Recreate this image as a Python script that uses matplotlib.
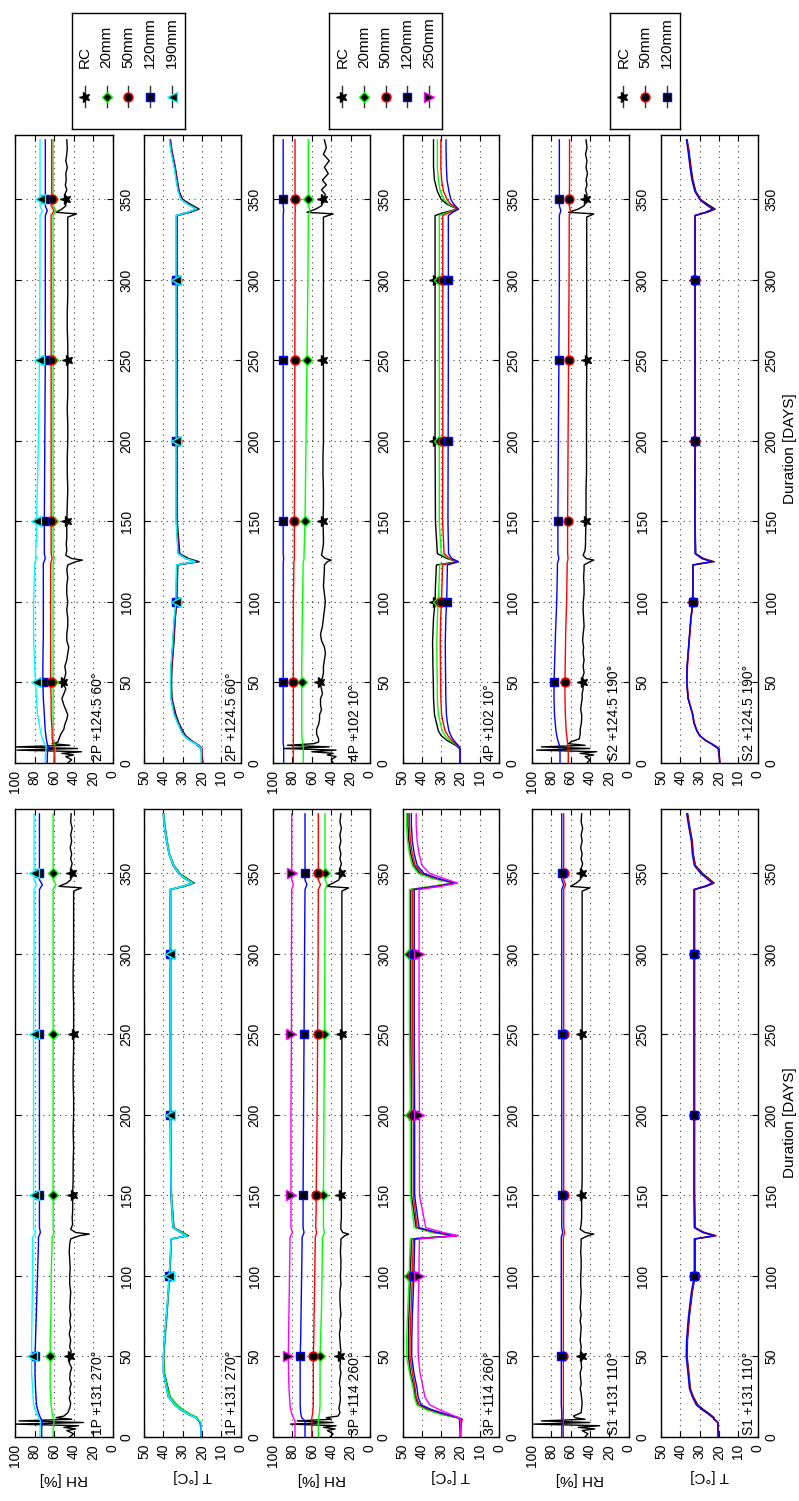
import numpy as np
import matplotlib
matplotlib.use("Agg")
import matplotlib.pyplot as plt
from matplotlib.markers import MarkerStyle
from matplotlib.transforms import Affine2D

plt.rcParams['font.family'] = ['Liberation Sans', 'DejaVu Sans']
plt.rcParams['font.size'] = 10

# ---------------- data ----------------
DAY_RH = [0, 5, 10, 12, 15, 20, 30, 40, 50, 60, 80, 100, 120, 124, 127, 130, 140, 150,
          200, 250, 300, 340, 343, 346, 350, 360, 387]
DAY_RC = [0, 2, 4, 5, 6, 7, 8, 9, 10, 11,
          12, 13, 15, 18, 21, 24, 27, 30, 33, 36,
          40, 43, 46, 50, 53, 56, 60, 64, 68, 72,
          76, 80, 85, 90, 95, 100, 105, 110, 115, 120,
          123, 125, 126, 127, 129, 132, 136, 140, 150, 160,
          170, 180, 190, 200, 210, 220, 230, 240, 250, 260,
          270, 280, 290, 300, 310, 320, 330, 339, 341, 342,
          344, 346, 350, 353, 356, 359, 362, 366, 370, 374,
          378, 382, 387]
DAY_T = [0, 9, 11, 12, 14, 17, 20, 25, 30, 40, 50, 60, 75, 90, 100, 110, 123, 125, 127, 130,
         150, 200, 250, 300, 340, 342, 344, 347, 350, 355, 362, 370, 380, 387]

# ---- 2P +124.5 60 deg ----
RH_2P_RC = [46, 42, 48, 40, 52, 32, 98, 36, 100, 44,
            62, 56, 55, 53, 50, 49, 47, 46, 48, 50,
            52, 50, 48, 51, 49, 48, 49, 47, 46, 45,
            47, 47, 46, 46, 47, 46, 47, 47, 46, 47,
            46, 38, 31, 42, 48, 47, 47.5, 47, 47, 46.5,
            46, 46.5, 46.5, 46, 46, 46.5, 46, 46, 46, 46,
            46.5, 46.5, 46, 46, 46, 46, 46, 46, 37, 58,
            52, 48, 48, 49, 47, 48.5, 47.5, 48, 46.5, 48,
            47, 46.5, 47]
RH_2P_20 = [59, 59, 59, 60, 61, 61, 61, 61, 61, 61, 61, 61, 61, 61, 60, 61, 61, 61, 61, 61, 61, 61, 58, 61, 61, 61, 61]
RH_2P_50 = [60, 60, 60, 61, 62, 62, 63, 63, 63.5, 63.5, 63.5, 63.5, 63.5, 63.5, 62, 63, 63, 63, 63, 63, 63, 63, 60, 63, 62.5, 62.5, 62.5]
RH_2P_120 = [67, 67, 66, 67, 68, 69, 70, 71, 71.5, 71.5, 71, 71, 71, 71, 69, 70, 70, 70, 69.5, 69, 69, 69, 67, 69, 69, 69, 69]
RH_2P_190 = [69, 69, 68, 70, 72, 74, 77, 78, 79, 80, 81, 81, 80, 80, 78, 79, 78, 78, 76, 75, 74.5, 74.4, 72, 74.4, 74.4, 74.4, 74.4]

T_2P_RC = [19.5, 20.5, 22.5, 23, 25.5, 28.5, 30, 32, 33.5, 35.5, 35.8, 35.5, 34.5, 33.8, 33, 32.8, 32.5, 21.5, 27, 31.5,
           32.8, 32.8, 32.8, 32.8, 32.8, 26, 21.5, 26, 30, 31.8, 32.8, 33.8, 35.5, 36.3]
T_2P_20 = [20.3, 20.3, 21.8, 23.3, 26.3, 29.3, 30.8, 32.6, 34.3, 36, 36.3, 36, 35.1, 34.3, 33.4, 33.3, 33.1, 23.3, 28.3, 32.3,
           33.3, 33.3, 33.3, 33.3, 33.3, 27.3, 22.8, 27.3, 30.8, 32.3, 33.3, 34.3, 36, 36.8]
T_2P_50 = [20, 20, 21.5, 23, 26, 29, 30.5, 32.3, 34, 35.7, 36, 35.7, 34.8, 34, 33.1, 33, 32.8, 23, 28, 32,
           33, 33, 33, 33, 33, 27, 22.5, 27, 30.5, 32, 33, 34, 35.7, 36.5]
T_2P_120 = [20.2, 20.2, 21.7, 23.2, 26.2, 29.2, 30.7, 32.5, 34.2, 35.9, 36.2, 35.9, 35, 34.2, 33.3, 33.2, 33, 23.2, 28.2, 32.2,
            33.2, 33.2, 33.2, 33.2, 33.2, 27.2, 22.7, 27.2, 30.7, 32.2, 33.2, 34.2, 35.9, 36.7]
T_2P_190 = [20.4, 20.4, 21.9, 23.4, 26.4, 29.4, 30.9, 32.7, 34.4, 36.1, 36.4, 36.1, 35.2, 34.4, 33.5, 33.4, 33.2, 23.4, 28.4, 32.4,
            33.4, 33.4, 33.4, 33.4, 33.4, 27.4, 22.9, 27.4, 30.9, 32.4, 33.4, 34.4, 36.1, 36.9]

# ---- 4P +102 10 deg ----
RH_4P_RC = [38, 40, 35, 44, 38, 60, 35, 89, 42, 85,
            58, 53, 53, 55, 55, 53, 52, 52, 50, 51,
            51, 49, 50, 51.5, 49, 48, 48, 47, 46, 47,
            50, 51, 49, 48, 47, 46, 47, 48, 47.5, 47,
            47, 44, 40, 46, 50, 49, 48, 48, 48.5, 48,
            48, 48.5, 48.5, 48, 48, 48, 48, 48, 48, 48,
            48, 48, 48, 48, 48, 48, 48, 48, 38, 65,
            56, 50, 48, 46, 50, 45, 49, 43, 47, 42,
            48, 45, 47]
RH_4P_20 = [68.8, 68.8, 68.8, 69.5, 70, 70.4, 70.4, 70.4, 70.4, 70.4, 70, 69.5, 69, 69, 68, 68, 67.5, 67, 66, 65, 64, 63.6, 62, 63.6, 63.6, 63.6, 63.6]
RH_4P_50 = [79, 79, 79, 79, 79, 79, 79, 79, 79, 79, 79, 79, 78.5, 78.5, 78, 78, 78, 78, 77.5, 77.5, 77.3, 77.3, 77, 77.3, 77.3, 77.3, 77.3]
RH_4P_120 = [89, 89, 89, 89.5, 89.5, 89.5, 89.5, 89.5, 89.5, 89.5, 89.5, 89.5, 89.5, 89.5, 89, 89.5, 89.5, 89.5, 89.5, 89.5, 89.5, 89.5, 89, 89.5, 89.5, 89.5, 89.5]

T_4P_RC = [20.2, 20.5, 22.5, 24, 27, 30, 31.5, 32.5, 33.5, 34, 34.1, 34.3, 34.5, 34, 33.2, 33, 32.5, 21.5, 27, 32,
           33, 33.2, 33.2, 33.2, 33.2, 28, 21.5, 27, 30, 32, 33.5, 34, 34, 34]
T_4P_20 = [20.2, 20.3, 21.8, 23, 25.5, 28, 29.5, 30.5, 31.5, 32, 32, 32.2, 32.3, 32, 31.5, 31.2, 30.8, 21.3, 26, 30,
           31, 31, 31, 31, 31, 26.5, 21.3, 26, 28.5, 30.5, 31.5, 32, 32, 32]
T_4P_50 = [20.2, 20.2, 21.5, 22.5, 24.5, 26.5, 28, 29, 29.8, 30.2, 30.3, 30.4, 30.5, 30.3, 29.9, 29.6, 29.3, 21.2, 25.5, 28.5,
           29.3, 29.2, 29.2, 29.2, 29.2, 25.5, 21.2, 25, 27, 28.8, 29.8, 30.2, 30.2, 30.2]
T_4P_120 = [20.2, 20.2, 21.2, 22, 23.5, 25, 26, 26.8, 27.3, 27.6, 27.7, 27.8, 27.9, 27.6, 27.2, 27, 26.8, 21, 24.5, 26.2,
            26.5, 26.4, 26.3, 26.3, 26.3, 24, 21, 23.5, 25, 26, 27, 27.3, 27.5, 27.5]

# ---- S2 +124.5 190 deg ----
RH_S2_RC = [43, 40, 45, 36, 50, 33, 95, 40, 90, 45,
            62, 60, 51, 50, 50, 49, 48.5, 48.5, 49.5, 49,
            48, 48, 47, 46.8, 47.5, 46, 47, 46, 47, 46.5,
            47.5, 47, 46, 46.5, 47, 46.8, 46, 46, 46.5, 46,
            46, 40, 36, 44, 47, 45, 44.5, 44.5, 44, 44,
            44, 43.5, 43.5, 43.5, 43.5, 43.5, 43.5, 43.3, 43.3, 43.3,
            43.3, 43.3, 43.3, 43.3, 43.3, 43.3, 43.3, 43.3, 36, 62,
            52, 46, 44, 43, 44.5, 43, 44, 42.5, 44, 43,
            44.5, 43, 44]
RH_S2_50 = [62.3, 62.3, 62.5, 63, 63.5, 64.5, 65.3, 65.7, 65.7, 65.5, 65, 64, 63.5, 63.5, 62.5, 63, 63, 63, 62.5, 62, 61.5, 61.3, 60, 61.3, 61.2, 61, 61]
RH_S2_120 = [70.8, 70.8, 71, 72, 73.5, 75, 76.5, 77, 77, 76.5, 75.5, 74.2, 73.5, 73.5, 72, 73, 73, 73, 72.5, 72, 71.5, 71.5, 70, 71.5, 71.5, 71.5, 71.5]

T_S2_RC = [19.5, 20.5, 23, 24, 27, 30, 31.5, 33, 33.5, 36, 36.7, 36.5, 35.5, 34.5, 33.5, 33.5, 33.5, 22.5, 28, 32,
           32.4, 32.4, 32.4, 32.4, 32.4, 26, 22, 26, 29.5, 32, 33.5, 34.5, 35.5, 36.5]
T_S2_50 = [19.6, 20, 22.5, 23.8, 26.8, 29.8, 31.3, 32.8, 33.5, 35.8, 36.5, 36.3, 35.4, 34.4, 33.4, 33.4, 33.4, 23.5, 28.5, 32.2,
           32.4, 32.4, 32.4, 32.4, 32.4, 26.8, 23, 26.8, 29.8, 32.3, 33.8, 34.8, 35.8, 36.6]
T_S2_120 = [19.7, 20, 22.5, 24, 27, 30, 31.5, 33, 33.7, 36, 36.7, 36.5, 35.6, 34.6, 33.5, 33.5, 33.5, 24, 29, 32.4,
            32.5, 32.4, 32.4, 32.4, 32.4, 27, 23.3, 27, 30, 32.5, 34, 35, 36, 36.8]

# ---- 1P +131 270 deg ----
RH_1P_RC = [44, 40, 47, 38, 50, 35, 100, 30, 96, 42,
            58, 50, 46, 44, 43, 44.5, 43, 44, 42.5, 44,
            43.5, 42, 44.5, 44, 42.5, 44, 43, 44.5, 43, 44,
            43, 44, 43.5, 43, 44, 44, 43.5, 44, 44.5, 44,
            43, 34, 24, 38, 43, 41, 41.5, 41, 41, 40.5,
            40.5, 40, 40.5, 40, 40, 40.5, 40.5, 40, 40, 40,
            40, 40.5, 40.5, 40, 40, 40, 40, 40, 32, 55,
            47, 43, 42, 43, 41.5, 43, 42, 43.5, 42, 43,
            41.5, 43, 42.5]
RH_1P_20 = [61, 61, 60, 61, 62, 63, 64, 64, 64, 64, 63, 63, 62, 62, 60, 61, 61, 61, 61, 61, 61, 61, 58, 61, 61, 61, 61]
RH_1P_120 = [72.7, 72.7, 72, 74, 76, 78, 79, 79.5, 79.5, 79, 78, 77, 76, 76, 74, 75, 75, 75, 75, 75, 75, 75, 72, 75, 75, 75, 75]
RH_1P_190 = [74.4, 74.4, 74, 76, 78, 81, 82, 83, 83, 83, 82.5, 82, 82, 82, 79, 81, 81, 81, 81, 81, 80.5, 80.5, 78, 80.5, 80.5, 80.5, 80.5]

T_1P_RC = [20, 21, 22.5, 22.5, 26, 30, 33, 36.5, 37.5, 39.5, 39.8, 39.2, 38.2, 37.3, 36.8, 36.3, 35.8, 27, 30, 34.5,
           35.8, 36.2, 36.2, 36.2, 36.2, 29, 24, 28, 31.5, 34.5, 36.8, 38, 39.2, 39.8]
T_1P_20 = [20.5, 20.5, 22, 22.5, 26, 30, 33, 36.5, 37.8, 39.6, 39.8, 39.3, 38.3, 37.3, 36.8, 36.3, 35.8, 27.5, 30.5, 34.8,
           35.8, 36.3, 36.3, 36.3, 36.3, 29.5, 24.5, 28.5, 31.7, 34.6, 36.8, 38.1, 39.3, 39.8]
T_1P_120 = [20.6, 20.6, 22.6, 23.2, 27.2, 31.2, 34.2, 37.5, 38.4, 40, 40, 39.5, 38.5, 37.5, 37, 36.5, 36, 28.2, 31.2, 35.1,
            36.1, 36.5, 36.5, 36.5, 36.5, 30.2, 25.2, 29.2, 32.2, 35, 37.1, 38.4, 39.6, 40.1]
T_1P_190 = [20.5, 20.5, 22.5, 23, 27, 31, 34, 37.4, 38.3, 40, 40, 39.5, 38.5, 37.5, 37, 36.5, 36, 28, 31, 35,
            36, 36.5, 36.5, 36.5, 36.5, 30, 25, 29, 32, 34.8, 37, 38.3, 39.5, 40]

# ---- 3P +114 260 deg ----
RH_3P_RC = [41, 38, 44, 36, 48, 35, 82, 38, 75, 40,
            45, 33, 31, 32, 31, 30.5, 31, 30.5, 31.5, 31,
            30, 31, 30.5, 31, 30, 30.5, 31, 31.5, 30.5, 31,
            30, 30.5, 31, 31, 30, 30.5, 30, 30, 30.5, 30,
            30, 26, 22, 28, 30, 30, 29.5, 29.5, 29.5, 29.5,
            29.5, 29, 29, 29, 29, 29, 29, 29, 29, 29,
            29, 29, 29, 29, 29, 29, 29, 29, 22, 45,
            38, 32, 30, 31, 29.5, 31, 30, 31.5, 30, 31,
            29.5, 31, 30]
RH_3P_20 = [53.3, 53.3, 53.3, 53, 52, 51.5, 51.5, 51.5, 51.5, 51, 50, 49.5, 49, 49, 47, 48, 48, 48, 47.5, 47, 46.5, 46.4, 44, 46.4, 46.4, 46.4, 46.4]
RH_3P_50 = [60, 60, 60, 60, 59, 58.5, 58.4, 58.4, 58.4, 58, 57.5, 57, 56.5, 56.5, 55, 56, 55.5, 55.5, 54.5, 54, 53.5, 53.3, 51, 53.3, 53.3, 53.3, 53.3]
RH_3P_120 = [67, 67, 67, 70.4, 71.5, 72, 72, 72, 72, 71.5, 71, 70.5, 70, 70, 68, 69, 69, 69, 68.5, 68, 67.5, 67, 65, 67, 67, 67, 67]
RH_3P_250 = [77.3, 77.3, 77.3, 79, 81, 82.5, 83.5, 84, 84.2, 84, 83.5, 83, 82.5, 82.5, 80, 81.5, 81.5, 81.5, 81.5, 81, 81, 80.7, 79, 80.7, 80.7, 80.7, 80.7]

T_3P_RC = [20, 20.5, 20.5, 22, 29, 37, 42, 43.5, 44, 46, 47, 47, 46.8, 46.3, 46, 45.8, 45.5, 22, 34, 43,
           45.5, 45.5, 45.8, 45.8, 45.8, 34, 23, 34, 41, 44.3, 45.8, 46.8, 47.3, 47.3]
T_3P_20 = [20, 20, 20, 22, 30, 38, 42.7, 44, 44.5, 46.5, 48, 48, 47.5, 47, 46.5, 46.5, 46, 23, 35, 44,
           46, 46, 46.5, 46.5, 46.5, 35, 24, 35, 42, 45, 46.5, 47.5, 48, 48]
T_3P_50 = [20, 19.5, 19, 21, 28, 36, 41.5, 43, 43.5, 45, 46.2, 46.2, 45.8, 45.3, 45, 44.8, 44.5, 22.5, 33, 42.5,
           44.5, 44.5, 44.8, 44.8, 44.8, 33, 23, 33, 40, 43.5, 45, 46, 46.5, 46.5]
T_3P_120 = [20, 20, 19.5, 21, 27, 35, 40.5, 42, 42.5, 44.2, 45.3, 45.3, 45, 44.5, 44.2, 44, 43.8, 22, 32, 41.5,
            43.8, 43.8, 44, 44, 44, 32, 22.5, 32, 39, 42.5, 44, 45, 45.5, 45.5]
T_3P_250 = [20, 20, 20, 21, 25, 31, 36, 38.5, 39.3, 41, 41.9, 42, 42, 41.8, 41.5, 41.5, 41.3, 21, 29, 38,
            41.3, 41.3, 41.5, 41.5, 41.5, 30, 21.5, 29, 36, 40, 41.5, 42.5, 43, 43]

# ---- S1 +131 110 deg ----
RH_S1_RC = [45, 42, 48, 35, 52, 30, 98, 40, 90, 45,
            55, 57, 49, 48.5, 48, 48.5, 49, 50, 49, 49.5,
            50, 48.5, 49, 48.5, 49.5, 49, 50, 49.5, 49, 50,
            49, 50, 49.5, 49, 49.5, 49.5, 49, 49, 49.5, 49,
            49, 42, 36, 45, 50, 49, 48.5, 48.5, 48.5, 48,
            48, 48, 48, 48, 48, 48, 48, 48, 48, 48,
            48, 48, 48, 48, 48, 48, 48, 48, 40, 60,
            54, 50, 48, 49, 47.5, 49, 48, 49.5, 48, 49,
            47.5, 49, 48.5]
RH_S1_50 = [67.4, 67.4, 67.4, 67.4, 67.4, 67.4, 67.4, 67.4, 67.4, 67.4, 67.4, 67.4, 67.4, 67.4, 66, 67, 67, 67, 67, 67, 67, 67, 65, 67, 67, 67, 67]
RH_S1_120 = [69, 69, 69, 69, 69, 69.5, 69.5, 69.5, 69.5, 69.5, 69.5, 69.5, 69.5, 69.5, 68, 69, 69, 69, 69, 69, 69, 69, 67, 69, 69, 69, 69]

T_S1_RC = [20.2, 20.5, 22.5, 22.5, 24.5, 28, 31, 33.3, 34.8, 35.6, 36.5, 36.3, 35.3, 33.8, 32.3, 32.3, 32.3, 21.5, 27.5, 32.3,
           32.6, 32.6, 32.6, 32.6, 32.6, 26.5, 22.5, 25.5, 28.5, 32.2, 33.3, 33.8, 35.3, 36.2]
T_S1_50 = [20.4, 20.5, 22.5, 23, 25, 28.5, 31.5, 33.5, 35, 35.8, 36.7, 36.5, 35.5, 34, 32.5, 32.5, 32.5, 22, 28, 32.5,
           32.8, 32.8, 32.8, 32.8, 32.8, 27, 23, 26, 29, 32.4, 33.5, 34, 35.5, 36.4]
T_S1_120 = [20.5, 20.6, 22.6, 23.2, 25.3, 28.8, 31.8, 33.8, 35.3, 36.1, 37, 36.8, 35.8, 34.3, 32.8, 32.8, 32.8, 22.5, 28.5, 32.8,
            33, 33, 33, 33, 33, 27.5, 23.5, 26.5, 29.5, 32.8, 33.8, 34.3, 35.8, 36.7]

PANEL_LABELS = ['2P +124.5 60°', '4P +102 10°', 'S2 +124.5 190°',
                '1P +131 270°', '3P +114 260°', 'S1 +131 110°']
RH_TICKS = [0, 20, 40, 60, 80, 100]
T_TICKS = [0, 10, 20, 30, 40, 50]
DAY_TICKS = [0, 50, 100, 150, 200, 250, 300, 350]

COLORS = {'RC': '#000000', '20mm': '#00ff00', '50mm': '#ff0000', '120mm': '#0000ff',
          '190mm': '#00ffff', '250mm': '#ff00ff'}
MARKERS = {'RC': '*', '20mm': 'D', '50mm': 'o', '120mm': 's', '190mm': '^', '250mm': 'v'}
MSIZE = {'RC': 8, '20mm': 5, '50mm': 6.5, '120mm': 5.5, '190mm': 6.5, '250mm': 6.5}


def mstyle(name):
    return MarkerStyle(MARKERS[name], transform=Affine2D().rotate_deg(90))


# ---------------- layout (pixels of the 799 x 1501 image) ----------------
W, H = 799, 1501
fig = plt.figure(figsize=(W / 100, H / 100), dpi=100)
PX = [(15, 112.7), (144, 240.7), (273, 370), (402.7, 499), (531.7, 628.7), (661, 757.7)]
GROUP_Y = [(135, 763), (809, 1437)]


def add_ax(x0, x1, y0, y1):
    return fig.add_axes([x0 / W, 1 - y1 / H, (x1 - x0) / W, (y1 - y0) / H])


def style_ax(ax, ticks):
    ax.set_xlim(ticks[-1], ticks[0])
    ax.set_ylim(0, 390)
    ax.set_xticks(ticks)
    ax.set_yticks(DAY_TICKS)
    ax.tick_params(direction='in', length=4, width=0.8, top=True, bottom=True,
                   left=True, right=True, labelleft=False, labelright=True,
                   labelbottom=True, labelsize=10, pad=5)
    ax.tick_params(axis='x', labelrotation=90)
    ax.tick_params(axis='y', labelrotation=90)
    ax.grid(True, linestyle=(0, (1, 4)), color='0.25', linewidth=0.8)
    for s in ax.spines.values():
        s.set_linewidth(1.0)


def draw(ax, days, vals, name, mark_days):
    assert len(days) == len(vals)
    c = COLORS[name]
    idx = [days.index(d) for d in mark_days]
    ax.plot(vals, days, color=c, lw=1.0, marker=mstyle(name), markevery=idx,
            ms=MSIZE[name], mfc='k', mec=c, mew=1.0)


RH_MARK = [50, 150, 250, 350]
T_MARK = [100, 200, 300]

panels_rh = [
    [('RC', RH_2P_RC), ('20mm', RH_2P_20), ('50mm', RH_2P_50), ('120mm', RH_2P_120), ('190mm', RH_2P_190)],
    [('RC', RH_4P_RC), ('20mm', RH_4P_20), ('50mm', RH_4P_50), ('120mm', RH_4P_120)],
    [('RC', RH_S2_RC), ('50mm', RH_S2_50), ('120mm', RH_S2_120)],
    [('RC', RH_1P_RC), ('20mm', RH_1P_20), ('120mm', RH_1P_120), ('190mm', RH_1P_190)],
    [('RC', RH_3P_RC), ('20mm', RH_3P_20), ('50mm', RH_3P_50), ('120mm', RH_3P_120), ('250mm', RH_3P_250)],
    [('RC', RH_S1_RC), ('50mm', RH_S1_50), ('120mm', RH_S1_120)],
]
panels_t = [
    [('RC', T_2P_RC), ('20mm', T_2P_20), ('50mm', T_2P_50), ('120mm', T_2P_120), ('190mm', T_2P_190)],
    [('RC', T_4P_RC), ('20mm', T_4P_20), ('50mm', T_4P_50), ('120mm', T_4P_120)],
    [('RC', T_S2_RC), ('50mm', T_S2_50), ('120mm', T_S2_120)],
    [('RC', T_1P_RC), ('20mm', T_1P_20), ('120mm', T_1P_120), ('190mm', T_1P_190)],
    [('RC', T_3P_RC), ('20mm', T_3P_20), ('50mm', T_3P_50), ('120mm', T_3P_120), ('250mm', T_3P_250)],
    [('RC', T_S1_RC), ('50mm', T_S1_50), ('120mm', T_S1_120)],
]

all_axes = []
for g in range(2):
    y0, y1 = GROUP_Y[g]
    for p in range(3):
        k = g * 3 + p
        # RH panel
        xa0, xa1 = PX[2 * p]
        ax = add_ax(xa0, xa1, y0, y1)
        style_ax(ax, RH_TICKS)
        for name, vals in panels_rh[k]:
            days = DAY_RC if name == 'RC' else DAY_RH
            draw(ax, days, vals, name, RH_MARK)
        ax.text(0.85, 0.003, PANEL_LABELS[k], transform=ax.transAxes, rotation=90,
                ha='center', va='bottom', fontsize=10)
        all_axes.append(ax)
        if g == 1:
            fig.text((xa0 + xa1) / 2 / W, 1 - 1479 / H, 'RH [%]', rotation=180,
                     ha='center', va='center', fontsize=11)
        # T panel
        xb0, xb1 = PX[2 * p + 1]
        ax = add_ax(xb0, xb1, y0, y1)
        style_ax(ax, T_TICKS)
        for name, vals in panels_t[k]:
            draw(ax, DAY_T, vals, name, T_MARK)
        ax.text(0.905, 0.003, PANEL_LABELS[k], transform=ax.transAxes, rotation=90,
                ha='center', va='bottom', fontsize=10)
        all_axes.append(ax)
        if g == 1:
            fig.text((xb0 + xb1) / 2 / W, 1 - 1476 / H, 'T [°C]', rotation=180,
                     ha='center', va='center', fontsize=11)
        if p == 2:
            fig.text(790 / W, 1 - ((y0 + y1) / 2) / H, 'Duration [DAYS]', rotation=90,
                     ha='center', va='center', fontsize=11)

for ax in all_axes:
    for t in ax.yaxis.get_major_ticks():
        t.label2.set_va('center')
        t.label2.set_ha('left')

# ---------------- legends ----------------
LEGENDS = [
    ((71.7, 185.0), ['RC', '20mm', '50mm', '120mm', '190mm']),
    ((329.0, 442.3), ['RC', '20mm', '50mm', '120mm', '250mm']),
    ((610.0, 680.0), ['RC', '50mm', '120mm']),
]
LY0, LY1 = 12.7, 129.0
for (lx0, lx1), names in LEGENDS:
    lax = add_ax(lx0, lx1, LY0, LY1)
    lax.set_xlim(lx0, lx1)
    lax.set_ylim(LY1, LY0)
    lax.set_xticks([])
    lax.set_yticks([])
    for s in lax.spines.values():
        s.set_linewidth(1.0)
    for i, name in enumerate(names):
        ex = lx0 + 13.3 + i * 21.67
        c = COLORS[name]
        lax.plot([ex, ex], [86.5, 107.5], color='0.2', lw=1.0)
        lax.plot([ex], [96.7], linestyle='none', marker=mstyle(name), ms=MSIZE[name],
                 mfc='k', mec=c, mew=1.0)
        lax.text(ex, 68, name, rotation=90, ha='center', va='bottom', fontsize=11)

fig.savefig('out.png', dpi=100)
